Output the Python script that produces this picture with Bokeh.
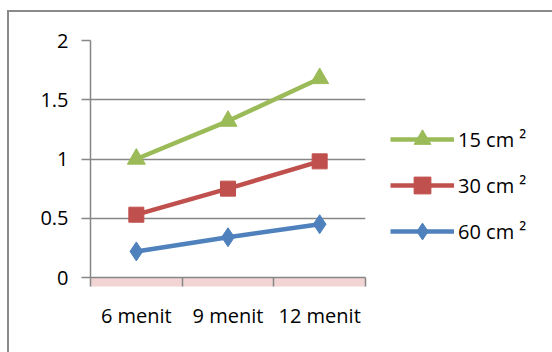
from bokeh.plotting import figure
from bokeh.models import (Range1d, FactorRange, LinearAxis, CategoricalAxis, FixedTicker,
                          Legend, LegendItem)
from bokeh.embed import file_html
from bokeh.resources import INLINE

categories = ["6 menit", "9 menit", "12 menit"]
series_names = ["15 cm ²", "30 cm ²", "60 cm ²"]
s15 = [1.0, 1.32, 1.68]
s30 = [0.53, 0.75, 0.98]
s60 = [0.22, 0.34, 0.45]
y_ticks = [0, 0.5, 1, 1.5, 2]

colors = ["#9BBB59", "#C0504D", "#4F81BD"]
markers = ["triangle", "square", "diamond"]
sizes = [18, 15, 19]
FONT = "Open Sans"

p = figure(frame_width=275, frame_height=237, output_backend="svg", toolbar_location=None,
           x_range=FactorRange(*categories, range_padding=0), y_range=Range1d(0, 2),
           x_axis_location=None, y_axis_location=None,
           min_border_left=90, min_border_right=0, min_border_top=40, min_border_bottom=75)
p.outline_line_color = None
p.background_fill_color = "white"
p.border_fill_color = None
p.styles = {
    "background": "linear-gradient(#8a8a8a, #8a8a8a) 7px 10px / 2px 342px no-repeat, "
                  "linear-gradient(#8a8a8a, #8a8a8a) 7px 10px / 545px 2px no-repeat, white"
}
p.xgrid.grid_line_color = None
p.ygrid.grid_line_color = "#868686"
p.ygrid.grid_line_width = 1.5

# y axis
yax = LinearAxis(ticker=FixedTicker(ticks=y_ticks))
yax.axis_line_color = "#868686"
yax.axis_line_width = 1.5
yax.major_tick_line_color = "#868686"
yax.major_tick_line_width = 1.5
yax.major_tick_out = 9
yax.major_tick_in = 0
yax.minor_tick_line_color = None
yax.major_label_text_font = FONT
yax.major_label_text_font_size = "20px"
yax.major_label_text_color = "#000000"
yax.major_label_standoff = 13
yax.major_label_overrides = {0: "0", 0.5: "0.5", 1: "1", 1.5: "1.5", 2: "2"}
p.add_layout(yax, "left")
p.ygrid.ticker = yax.ticker

# x tick axis at category boundaries (synthetic coordinates 0..n)
bounds = list(range(len(categories) + 1))
xt = LinearAxis(ticker=FixedTicker(ticks=bounds))
xt.axis_line_color = "#868686"
xt.axis_line_width = 1.5
xt.major_tick_line_color = "#868686"
xt.major_tick_line_width = 1.5
xt.major_tick_out = 9
xt.major_tick_in = 0
xt.minor_tick_line_color = None
xt.major_label_overrides = {b: "" for b in bounds}
xt.major_label_standoff = 0
if hasattr(xt, "background_fill_color"):
    xt.background_fill_color = "#f0c9cb"
    xt.background_fill_alpha = 0.8
p.add_layout(xt, "below")

# x labels axis
xa = CategoricalAxis()
xa.axis_line_color = None
xa.major_tick_line_color = None
xa.major_tick_out = 0
xa.major_tick_in = 0
xa.major_label_text_font = FONT
xa.major_label_text_font_size = "20px"
xa.major_label_text_color = "#000000"
xa.major_label_standoff = 15
p.add_layout(xa, "below")

items = []
for name, vals, c, m, s in zip(series_names, [s15, s30, s60], colors, markers, sizes):
    r1 = p.line(categories, vals, line_color=c, line_width=4.5)
    r2 = p.scatter(categories, vals, marker=m, size=s, fill_color=c, line_color=c)
    items.append(LegendItem(label=name, renderers=[r1, r2]))

legend = Legend(items=items, location="bottom_left")
legend.glyph_width = 64
legend.glyph_height = 42
legend.label_height = 20
legend.label_standoff = 4
legend.spacing = 4
legend.padding = 0
legend.margin = 25
legend.border_line_color = None
legend.background_fill_alpha = 0
legend.label_text_font = FONT
legend.label_text_font_size = "20px"
legend.label_text_color = "#000000"
p.add_layout(legend, "right")

open("out.html", "w").write(file_html(p, INLINE))
